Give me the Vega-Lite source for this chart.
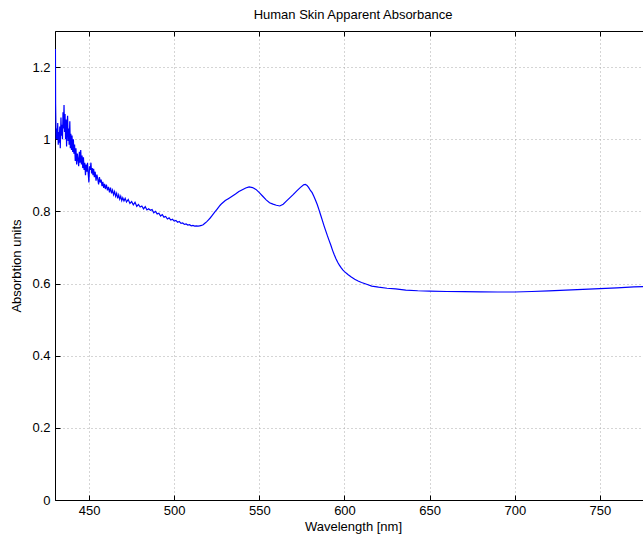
{
  "$schema": "https://vega.github.io/schema/vega-lite/v6.json",
  "autosize": "none",
  "padding": {"left": 55, "top": 31, "right": 0, "bottom": 39},
  "width": 596,
  "height": 469,
  "title": {"text": "Human Skin Apparent Absorbance", "fontSize": 13, "fontWeight": "normal", "font": "Liberation Sans", "color": "#000", "offset": 9},
  "config": {
    "view": {"stroke": "#000", "strokeWidth": 1},
    "axis": {"labelFont": "Liberation Sans", "titleFont": "Liberation Sans", "labelFontSize": 13, "titleFontSize": 13, "titleFontWeight": "normal", "labelColor": "#000", "titleColor": "#000", "domainColor": "#000", "tickColor": "#000", "gridColor": "#aaa", "gridDash": [1, 3], "gridOpacity": 1}
  },
  "data": {"values": [
    {"w":430.25,"a":1.25},{"w":430.35,"a":1.1},{"w":430.5,"a":1.05},{"w":430.7,"a":1.0},{"w":431,"a":1.03},{"w":431.3,"a":1.0},{"w":431.6,"a":1.045},{"w":431.9,"a":0.985},{"w":432.2,"a":1.02},{"w":432.5,"a":0.99},{"w":432.8,"a":1.035},{"w":433.1,"a":0.975},{"w":433.5,"a":1.06},{"w":433.8,"a":1.01},{"w":434.1,"a":1.04},{"w":434.4,"a":1.0},{"w":434.7,"a":1.075},{"w":435,"a":1.03},{"w":435.3,"a":1.095},{"w":435.6,"a":1.02},{"w":435.9,"a":1.07},{"w":436.2,"a":1.0},{"w":436.5,"a":1.055},{"w":436.8,"a":0.98},{"w":437.1,"a":1.04},{"w":437.4,"a":1.065},{"w":437.7,"a":0.995},{"w":438,"a":1.03},{"w":438.3,"a":0.985},{"w":438.7,"a":1.05},{"w":439,"a":0.975},{"w":439.3,"a":1.015},{"w":439.7,"a":0.97},{"w":440,"a":1.01},{"w":440.4,"a":0.965},{"w":440.8,"a":1.0},{"w":441.1,"a":0.96},{"w":441.5,"a":0.985},{"w":441.9,"a":0.94},{"w":442.3,"a":0.975},{"w":442.7,"a":0.93},{"w":443.1,"a":0.96},{"w":443.5,"a":0.945},{"w":443.9,"a":0.925},{"w":444.3,"a":0.965},{"w":444.7,"a":0.935},{"w":445.1,"a":0.97},{"w":445.5,"a":0.93},{"w":445.9,"a":0.955},{"w":446.3,"a":0.92},{"w":446.7,"a":0.95},{"w":447.1,"a":0.915},{"w":447.5,"a":0.935},{"w":447.9,"a":0.9},{"w":448.3,"a":0.93},{"w":448.7,"a":0.91},{"w":449.1,"a":0.935},{"w":449.5,"a":0.905},{"w":449.9,"a":0.88},
    {"w":450.3,"a":0.925},{"w":450.7,"a":0.915},{"w":451.1,"a":0.935},{"w":451.5,"a":0.905},{"w":451.9,"a":0.92},{"w":452.3,"a":0.9},{"w":452.7,"a":0.918},{"w":453.1,"a":0.895},{"w":453.6,"a":0.91},{"w":454.1,"a":0.885},{"w":454.6,"a":0.902},{"w":455.1,"a":0.89},{"w":455.6,"a":0.875},{"w":456.1,"a":0.895},{"w":456.6,"a":0.88},{"w":457.1,"a":0.888},{"w":457.6,"a":0.87},{"w":458.1,"a":0.882},{"w":458.6,"a":0.865},{"w":459.1,"a":0.876},{"w":459.6,"a":0.862},{"w":460.2,"a":0.874},{"w":460.8,"a":0.858},{"w":461.4,"a":0.868},{"w":462,"a":0.853},{"w":462.6,"a":0.866},{"w":463.2,"a":0.85},{"w":463.8,"a":0.859},{"w":464.4,"a":0.846},{"w":465,"a":0.855},{"w":465.6,"a":0.842},{"w":466.2,"a":0.85},{"w":466.8,"a":0.836},{"w":467.4,"a":0.846},{"w":468,"a":0.834},{"w":468.6,"a":0.842},{"w":469.2,"a":0.83},{"w":469.8,"a":0.838},
    {"w":470.5,"a":0.829},{"w":471.2,"a":0.836},{"w":472,"a":0.826},{"w":473,"a":0.833},{"w":474,"a":0.822},{"w":475,"a":0.827},{"w":476,"a":0.818},{"w":477,"a":0.825},{"w":478,"a":0.814},{"w":479,"a":0.819},{"w":480,"a":0.812},{"w":481,"a":0.815},{"w":482,"a":0.807},{"w":483,"a":0.813},{"w":484,"a":0.804},{"w":485,"a":0.807},{"w":486,"a":0.803},{"w":487,"a":0.805},{"w":488,"a":0.796},{"w":489,"a":0.8},{"w":490,"a":0.793},{"w":491,"a":0.795},{"w":492,"a":0.787},{"w":493,"a":0.791},{"w":494,"a":0.784},{"w":495,"a":0.786},{"w":496,"a":0.779},{"w":497,"a":0.782},{"w":498,"a":0.776},{"w":499,"a":0.778},{"w":500,"a":0.773},{"w":501,"a":0.775},{"w":502,"a":0.77},{"w":503,"a":0.772},{"w":504,"a":0.767},{"w":505,"a":0.768},{"w":506,"a":0.764},{"w":507,"a":0.765},{"w":508,"a":0.762},{"w":509,"a":0.763},{"w":510,"a":0.76},{"w":511,"a":0.761},{"w":512,"a":0.759},{"w":513,"a":0.76},{"w":514,"a":0.759},{"w":515,"a":0.76},{"w":516,"a":0.761},{"w":517,"a":0.763},{"w":518,"a":0.767},{"w":519,"a":0.771},{"w":520,"a":0.776},{"w":521,"a":0.781},{"w":522,"a":0.787},{"w":523,"a":0.793},{"w":524,"a":0.799},{"w":525,"a":0.805},{"w":526,"a":0.811},{"w":527,"a":0.817},{"w":528,"a":0.822},{"w":529,"a":0.826},{"w":530,"a":0.83},
    {"w":532,"a":0.836},{"w":534,"a":0.842},{"w":536,"a":0.848},{"w":538,"a":0.855},{"w":540,"a":0.86},{"w":542,"a":0.865},{"w":544,"a":0.868},{"w":546,"a":0.866},{"w":548,"a":0.861},{"w":550,"a":0.852},{"w":552,"a":0.842},{"w":554,"a":0.832},{"w":556,"a":0.824},{"w":558,"a":0.82},{"w":560,"a":0.817},{"w":562,"a":0.815},{"w":564,"a":0.82},{"w":566,"a":0.829},{"w":568,"a":0.838},{"w":570,"a":0.847},{"w":572,"a":0.857},{"w":574,"a":0.866},{"w":576,"a":0.874},{"w":577,"a":0.875},{"w":578,"a":0.872},{"w":579,"a":0.866},{"w":580,"a":0.858},{"w":581,"a":0.852},{"w":582,"a":0.842},{"w":583,"a":0.831},{"w":584,"a":0.819},{"w":585,"a":0.805},{"w":586,"a":0.79},{"w":587,"a":0.775},{"w":588,"a":0.76},{"w":589,"a":0.746},{"w":590,"a":0.732},{"w":591,"a":0.719},{"w":592,"a":0.706},{"w":593,"a":0.692},{"w":594,"a":0.68},{"w":595,"a":0.669},{"w":596,"a":0.659},{"w":597,"a":0.651},{"w":598,"a":0.644},{"w":599,"a":0.638},{"w":600,"a":0.633},
    {"w":602,"a":0.625},{"w":604,"a":0.618},{"w":606,"a":0.612},{"w":608,"a":0.607},{"w":610,"a":0.603},{"w":613,"a":0.598},{"w":616,"a":0.593},{"w":620,"a":0.59},{"w":625,"a":0.587},{"w":630,"a":0.585},{"w":636,"a":0.582},{"w":643,"a":0.58},{"w":650,"a":0.579},{"w":660,"a":0.578},{"w":670,"a":0.5775},{"w":680,"a":0.577},{"w":690,"a":0.5765},{"w":700,"a":0.5765},{"w":710,"a":0.578},{"w":720,"a":0.5795},{"w":730,"a":0.582},{"w":740,"a":0.584},{"w":750,"a":0.586},{"w":760,"a":0.588},{"w":770,"a":0.5905},{"w":780,"a":0.592}
  ]},
  "layer": [
    {
      "mark": {"type": "line", "color": "#0000ff", "strokeWidth": 1.2, "clip": true},
      "encoding": {
        "x": {"field": "w", "type": "quantitative", "scale": {"domain": [430, 780], "nice": false, "zero": false},
          "axis": {"title": "Wavelength [nm]", "values": [450, 500, 550, 600, 650, 700, 750], "tickSize": -5, "labelPadding": 19, "labelBaseline": "alphabetic", "titleBaseline": "alphabetic", "titleY": 30, "grid": true}},
        "y": {"field": "a", "type": "quantitative", "scale": {"domain": [0, 1.3], "nice": false},
          "axis": {"title": "Absorbtion units", "values": [0, 0.2, 0.4, 0.6, 0.8, 1, 1.2], "format": "~g", "tickSize": -5, "labelPadding": 10, "titleX": -32, "grid": true}}
      }
    },
    {
      "mark": {"type": "line", "opacity": 0},
      "encoding": {
        "x": {"field": "w", "type": "quantitative", "scale": {"domain": [430, 780], "nice": false, "zero": false},
          "axis": {"orient": "top", "title": null, "labels": false, "domain": false, "values": [450, 500, 550, 600, 650, 700, 750], "tickSize": -5, "grid": false}},
        "y": {"value": 0}
      }
    }
  ],
  "resolve": {"axis": {"x": "independent"}}
}
